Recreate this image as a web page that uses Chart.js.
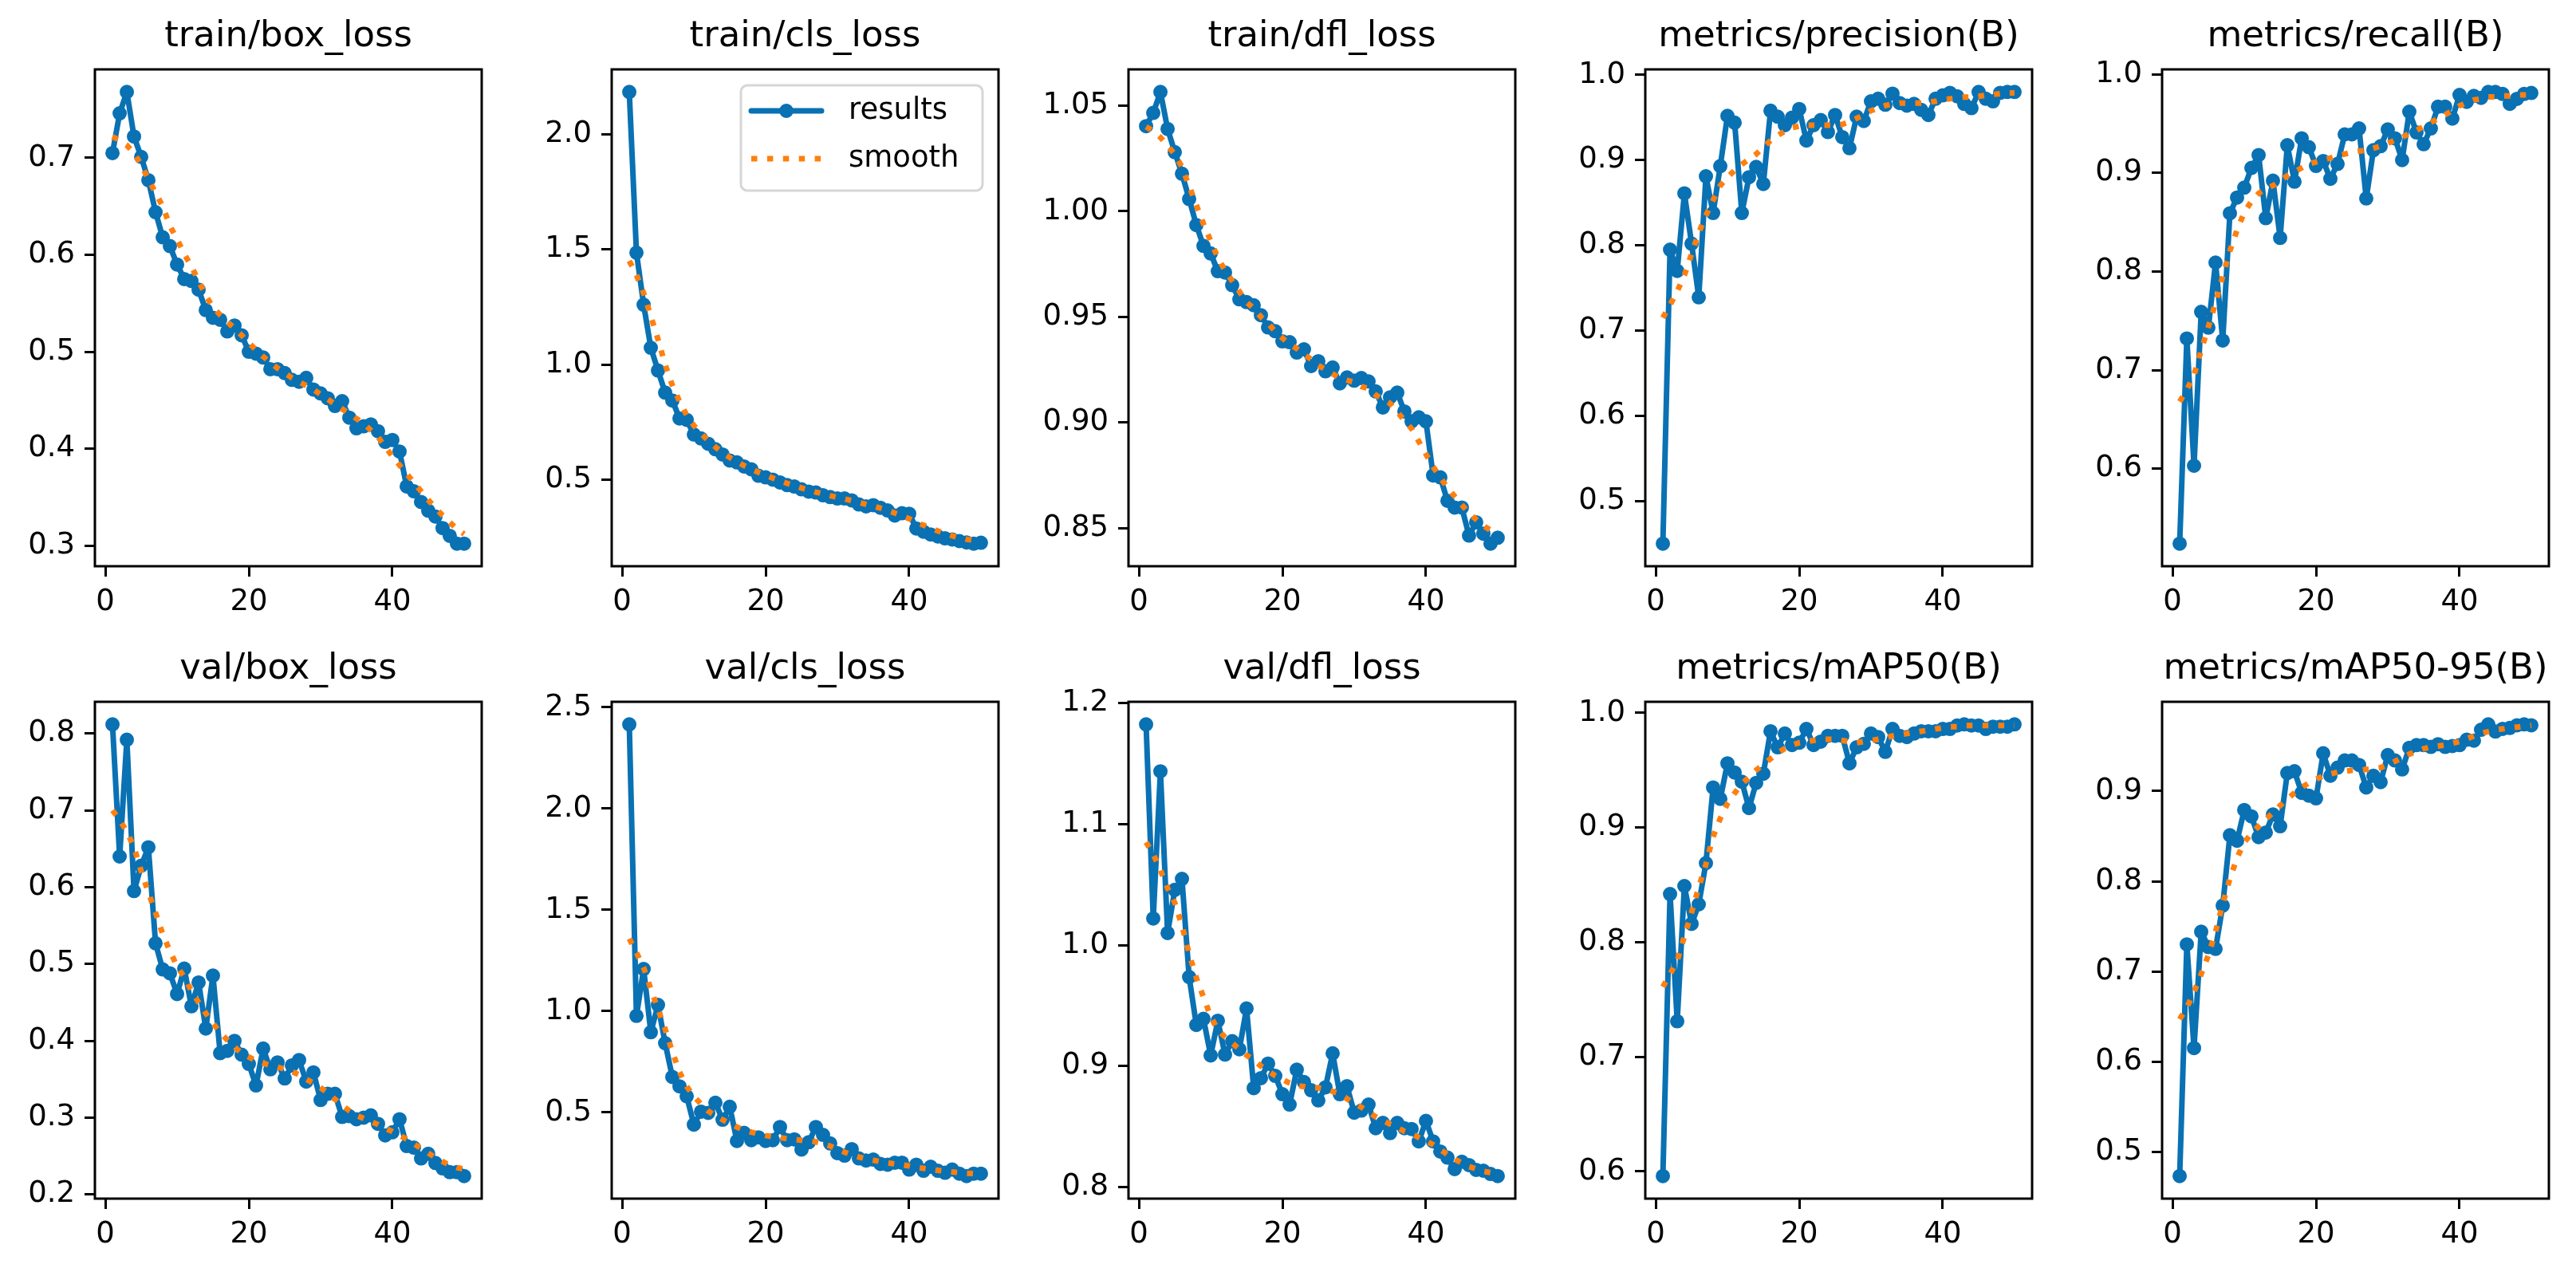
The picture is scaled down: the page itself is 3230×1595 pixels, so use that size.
<!DOCTYPE html>
<html>
<head>
<meta charset="utf-8">
<title>results</title>
<script src="https://cdn.jsdelivr.net/npm/chart.js@4.4.1/dist/chart.umd.min.js"></script>
<style>
    html, body { margin: 0; padding: 0; background: #fff; }
    #fig { position: relative; width: 3230px; height: 1595px; overflow: hidden; background: #fff; }
    #fig canvas { position: absolute; }
</style>
</head>
<body>
<div id="fig"></div>
<script>
// epochs on the x axis
const epochs = [1,2,3,4,5,6,7,8,9,10,11,12,13,14,15,16,17,18,19,20,21,22,23,24,25,26,27,28,29,30,31,32,33,34,35,36,37,38,39,40,41,42,43,44,45,46,47,48,49,50];
const xTicks = [0, 20, 40];

const titles = ["train/box_loss", "train/cls_loss", "train/dfl_loss", "metrics/precision(B)", "metrics/recall(B)",
                "val/box_loss", "val/cls_loss", "val/dfl_loss", "metrics/mAP50(B)", "metrics/mAP50-95(B)"];

// results + smooth series
const trainBoxLoss = [0.705,0.746,0.768,0.722,0.701,0.677,0.644,0.618,0.609,0.590,0.575,0.573,0.564,0.543,0.535,0.533,0.521,0.527,0.517,0.500,0.498,0.494,0.482,0.482,0.478,0.471,0.469,0.473,0.461,0.457,0.452,0.444,0.449,0.432,0.421,0.423,0.425,0.418,0.407,0.409,0.397,0.361,0.356,0.345,0.336,0.330,0.318,0.310,0.302,0.302];
const trainBoxSmooth = [0.722,0.718,0.713,0.705,0.693,0.678,0.664,0.650,0.630,0.616,0.601,0.588,0.573,0.558,0.546,0.538,0.531,0.524,0.517,0.509,0.502,0.495,0.489,0.483,0.478,0.473,0.469,0.465,0.461,0.456,0.451,0.446,0.441,0.436,0.431,0.426,0.419,0.412,0.402,0.392,0.383,0.374,0.365,0.356,0.347,0.339,0.331,0.324,0.317,0.312];
const trainBoxTicks = [0.3, 0.4, 0.5, 0.6, 0.7];

const trainClsLoss = [2.184,1.486,1.260,1.073,0.974,0.878,0.844,0.766,0.760,0.696,0.679,0.656,0.632,0.609,0.583,0.575,0.557,0.545,0.517,0.510,0.500,0.488,0.476,0.470,0.458,0.448,0.444,0.432,0.424,0.418,0.418,0.410,0.392,0.384,0.389,0.378,0.366,0.344,0.354,0.352,0.288,0.274,0.262,0.253,0.245,0.240,0.233,0.227,0.222,0.226];
const trainClsSmooth = [1.450,1.390,1.310,1.210,1.110,1.000,0.910,0.840,0.780,0.735,0.700,0.670,0.642,0.617,0.596,0.578,0.561,0.546,0.532,0.519,0.507,0.495,0.484,0.474,0.464,0.455,0.446,0.438,0.430,0.423,0.416,0.409,0.401,0.393,0.385,0.376,0.366,0.355,0.343,0.330,0.316,0.302,0.289,0.277,0.266,0.256,0.248,0.241,0.236,0.233];
const trainClsTicks = [0.5, 1.0, 1.5, 2.0];

const trainDflLoss = [1.0403,1.0466,1.0565,1.039,1.028,1.0178,1.0058,0.9935,0.9836,0.980,0.9716,0.971,0.965,0.9583,0.957,0.9555,0.9508,0.945,0.9432,0.9384,0.938,0.9331,0.9346,0.9267,0.929,0.9242,0.926,0.9185,0.9213,0.9198,0.921,0.9194,0.9147,0.9071,0.9119,0.9141,0.9052,0.9005,0.9024,0.9005,0.8749,0.874,0.8629,0.8597,0.8597,0.8464,0.8527,0.8473,0.8426,0.8454];
const trainDflSmooth = [1.040,1.038,1.035,1.031,1.027,1.021,1.012,1.003,0.994,0.986,0.978,0.972,0.967,0.962,0.957,0.954,0.950,0.947,0.943,0.940,0.937,0.935,0.932,0.930,0.927,0.925,0.923,0.921,0.920,0.919,0.917,0.916,0.913,0.911,0.909,0.905,0.901,0.897,0.891,0.885,0.879,0.874,0.869,0.865,0.861,0.857,0.854,0.851,0.849,0.848];
const trainDflTicks = [0.85, 0.90, 0.95, 1.00, 1.05];

const precision = [0.450,0.795,0.770,0.861,0.802,0.739,0.881,0.838,0.893,0.952,0.944,0.838,0.880,0.892,0.872,0.958,0.951,0.941,0.950,0.960,0.923,0.941,0.947,0.933,0.953,0.927,0.914,0.951,0.946,0.969,0.972,0.965,0.978,0.967,0.964,0.966,0.959,0.953,0.972,0.976,0.979,0.975,0.966,0.961,0.980,0.972,0.969,0.979,0.980,0.980];
const precisionSmooth = [0.715,0.730,0.746,0.765,0.790,0.815,0.835,0.853,0.870,0.880,0.888,0.895,0.901,0.907,0.915,0.923,0.929,0.934,0.938,0.940,0.941,0.941,0.941,0.941,0.941,0.942,0.945,0.949,0.953,0.958,0.961,0.964,0.966,0.967,0.967,0.967,0.967,0.968,0.969,0.971,0.972,0.973,0.974,0.974,0.975,0.976,0.977,0.978,0.979,0.979];
const precisionTicks = [0.5, 0.6, 0.7, 0.8, 0.9, 1.0];

const recall = [0.524,0.732,0.603,0.759,0.743,0.809,0.730,0.859,0.875,0.885,0.905,0.918,0.854,0.892,0.834,0.928,0.891,0.935,0.926,0.907,0.912,0.894,0.909,0.939,0.939,0.945,0.874,0.923,0.927,0.944,0.935,0.913,0.962,0.941,0.929,0.945,0.967,0.967,0.955,0.979,0.972,0.978,0.976,0.982,0.982,0.980,0.970,0.975,0.980,0.981];
const recallSmooth = [0.668,0.680,0.695,0.720,0.744,0.768,0.795,0.821,0.842,0.860,0.871,0.879,0.884,0.887,0.892,0.897,0.901,0.905,0.909,0.911,0.913,0.915,0.917,0.919,0.921,0.922,0.923,0.925,0.927,0.930,0.933,0.936,0.940,0.943,0.947,0.951,0.955,0.959,0.963,0.968,0.971,0.974,0.975,0.977,0.977,0.978,0.978,0.979,0.979,0.979];
const recallTicks = [0.6, 0.7, 0.8, 0.9, 1.0];

const valBoxLoss = [0.812,0.640,0.792,0.595,0.628,0.652,0.527,0.493,0.488,0.461,0.494,0.445,0.476,0.416,0.485,0.384,0.387,0.400,0.382,0.370,0.342,0.390,0.363,0.372,0.351,0.368,0.375,0.347,0.359,0.323,0.331,0.331,0.301,0.302,0.298,0.300,0.303,0.292,0.277,0.281,0.298,0.263,0.261,0.247,0.253,0.241,0.234,0.229,0.229,0.224];
const valBoxSmooth = [0.700,0.688,0.672,0.652,0.621,0.593,0.567,0.539,0.517,0.497,0.483,0.465,0.450,0.436,0.423,0.411,0.401,0.392,0.384,0.379,0.374,0.371,0.368,0.366,0.363,0.360,0.356,0.350,0.345,0.339,0.332,0.324,0.316,0.309,0.303,0.299,0.295,0.291,0.286,0.282,0.277,0.272,0.266,0.260,0.254,0.248,0.243,0.238,0.235,0.233];
const valBoxTicks = [0.2, 0.3, 0.4, 0.5, 0.6, 0.7, 0.8];

const valClsLoss = [2.416,0.977,1.208,0.896,1.031,0.842,0.675,0.629,0.580,0.440,0.504,0.498,0.548,0.464,0.528,0.359,0.399,0.363,0.377,0.359,0.363,0.428,0.363,0.367,0.317,0.353,0.428,0.389,0.347,0.299,0.287,0.319,0.273,0.263,0.267,0.246,0.242,0.252,0.252,0.218,0.242,0.212,0.232,0.212,0.202,0.218,0.198,0.186,0.198,0.198];
const valClsSmooth = [1.358,1.290,1.215,1.110,1.010,0.912,0.800,0.700,0.628,0.580,0.541,0.507,0.484,0.464,0.446,0.428,0.414,0.403,0.394,0.386,0.380,0.375,0.371,0.366,0.363,0.360,0.355,0.346,0.334,0.318,0.304,0.291,0.280,0.271,0.264,0.257,0.251,0.246,0.241,0.236,0.229,0.224,0.219,0.214,0.210,0.206,0.203,0.200,0.198,0.197];
const valClsTicks = [0.5, 1.0, 1.5, 2.0, 2.5];

const valDflLoss = [1.1824,1.022,1.1436,1.010,1.0456,1.0547,0.9736,0.934,0.939,0.9088,0.9375,0.9095,0.9206,0.9139,0.9476,0.8818,0.890,0.902,0.8919,0.8767,0.8682,0.897,0.8868,0.880,0.8716,0.8824,0.9105,0.8767,0.8834,0.8615,0.8632,0.8682,0.8486,0.853,0.8446,0.853,0.8486,0.848,0.8378,0.8547,0.8378,0.8294,0.8243,0.8149,0.8209,0.8182,0.8142,0.8135,0.8108,0.8091];
const valDflSmooth = [1.085,1.075,1.062,1.047,1.035,1.016,0.993,0.973,0.957,0.941,0.930,0.924,0.919,0.914,0.909,0.905,0.900,0.896,0.892,0.889,0.886,0.884,0.883,0.882,0.882,0.881,0.879,0.877,0.873,0.869,0.866,0.862,0.858,0.855,0.852,0.849,0.846,0.844,0.841,0.838,0.835,0.831,0.827,0.823,0.820,0.817,0.815,0.813,0.812,0.811];
const valDflTicks = [0.8, 0.9, 1.0, 1.1, 1.2];

const map50 = [0.596,0.842,0.731,0.849,0.816,0.833,0.869,0.935,0.925,0.956,0.948,0.940,0.917,0.939,0.947,0.984,0.970,0.982,0.972,0.974,0.986,0.972,0.975,0.980,0.980,0.980,0.956,0.970,0.973,0.982,0.979,0.966,0.986,0.980,0.979,0.982,0.984,0.984,0.984,0.986,0.986,0.989,0.990,0.989,0.989,0.986,0.988,0.988,0.988,0.990];
const map50Smooth = [0.761,0.772,0.784,0.805,0.826,0.848,0.868,0.892,0.908,0.921,0.930,0.938,0.944,0.950,0.955,0.960,0.965,0.969,0.972,0.974,0.975,0.976,0.977,0.977,0.977,0.976,0.975,0.974,0.975,0.976,0.977,0.978,0.980,0.981,0.982,0.983,0.984,0.985,0.986,0.987,0.988,0.988,0.989,0.989,0.989,0.989,0.989,0.989,0.989,0.989];
const map50Ticks = [0.6, 0.7, 0.8, 0.9, 1.0];

const map5095 = [0.473,0.730,0.615,0.744,0.727,0.725,0.773,0.851,0.845,0.879,0.872,0.849,0.854,0.874,0.861,0.920,0.922,0.898,0.895,0.892,0.942,0.917,0.926,0.934,0.934,0.929,0.904,0.917,0.910,0.940,0.934,0.924,0.948,0.951,0.951,0.949,0.952,0.949,0.950,0.951,0.957,0.956,0.968,0.974,0.966,0.969,0.970,0.973,0.974,0.973];
const map5095Smooth = [0.647,0.660,0.677,0.697,0.718,0.744,0.775,0.803,0.826,0.843,0.853,0.861,0.869,0.876,0.884,0.891,0.898,0.904,0.909,0.913,0.917,0.919,0.921,0.922,0.923,0.923,0.924,0.925,0.926,0.929,0.933,0.937,0.941,0.944,0.947,0.949,0.950,0.951,0.953,0.955,0.958,0.961,0.964,0.966,0.968,0.969,0.970,0.971,0.972,0.973];
const map5095Ticks = [0.5, 0.6, 0.7, 0.8, 0.9];

const panels = [
    { y: trainBoxLoss, s: trainBoxSmooth, ticks: trainBoxTicks, dec: 1 },
    { y: trainClsLoss, s: trainClsSmooth, ticks: trainClsTicks, dec: 1, legend: true },
    { y: trainDflLoss, s: trainDflSmooth, ticks: trainDflTicks, dec: 2 },
    { y: precision, s: precisionSmooth, ticks: precisionTicks, dec: 1 },
    { y: recall, s: recallSmooth, ticks: recallTicks, dec: 1 },
    { y: valBoxLoss, s: valBoxSmooth, ticks: valBoxTicks, dec: 1 },
    { y: valClsLoss, s: valClsSmooth, ticks: valClsTicks, dec: 1 },
    { y: valDflLoss, s: valDflSmooth, ticks: valDflTicks, dec: 1 },
    { y: map50, s: map50Smooth, ticks: map50Ticks, dec: 1 },
    { y: map5095, s: map5095Smooth, ticks: map5095Ticks, dec: 1 },
];

// layout of the 2 x 5 grid (plot area boxes in page pixels)
const colLeft = [119, 767, 1415, 2063, 2711];
const rowTop = [87, 880];
const plotW = 485, plotH = 623;
const padL = 130, padR = 15, padT = 86, padB = 90;

const BLUE = "#0a71b3";
const ORANGE = "#ff7f0e";
const FONT = "'DejaVu Sans', 'Liberation Sans', sans-serif";

Chart.defaults.font.family = FONT;
Chart.defaults.color = "#000";

// matplotlib style margins: 5% of the data span on each side
const withMargin = (vals) => {
    const lo = Math.min(...vals), hi = Math.max(...vals);
    const m = (hi - lo) * 0.05;
    return [lo - m, hi + m];
};

const frame = {
    id: "frame",
    afterDatasetsDraw(chart) {
        const { ctx, chartArea: a } = chart;
        ctx.save();
        ctx.lineWidth = 3;
        ctx.strokeStyle = "#000";
        ctx.strokeRect(a.left, a.top, a.right - a.left, a.bottom - a.top);
        ctx.restore();
    }
};

// boxed legend in the upper right corner of the plot
const legendBox = {
    id: "legendBox",
    afterDraw(chart, args, opts) {
        if (!opts.show) return;
        const { ctx, chartArea: a } = chart;
        const w = 303, h = 132;
        const x0 = a.right - 20 - w, y0 = a.top + 20;
        ctx.save();
        ctx.beginPath();
        ctx.roundRect(x0, y0, w, h, 8);
        ctx.fillStyle = "rgba(255,255,255,0.8)";
        ctx.fill();
        ctx.lineWidth = 3;
        ctx.strokeStyle = "rgba(204,204,204,0.8)";
        ctx.stroke();
        const rows = [y0 + 32, y0 + 92];
        chart.data.datasets.forEach((ds, i) => {
            const ry = rows[i];
            ctx.beginPath();
            ctx.setLineDash(ds.borderDash || []);
            ctx.lineCap = ds.borderCapStyle || "butt";
            ctx.lineWidth = ds.borderWidth;
            ctx.strokeStyle = ds.borderColor;
            ctx.moveTo(x0 + 13, ry);
            ctx.lineTo(x0 + 101, ry);
            ctx.stroke();
            ctx.setLineDash([]);
            if (ds.pointRadius > 0) {
                ctx.beginPath();
                ctx.arc(x0 + 57, ry, ds.pointRadius, 0, Math.PI * 2);
                ctx.fillStyle = ds.pointBackgroundColor;
                ctx.fill();
                ctx.lineWidth = ds.pointBorderWidth;
                ctx.strokeStyle = ds.pointBorderColor;
                ctx.stroke();
            }
            ctx.fillStyle = "#000";
            ctx.font = "37px " + FONT;
            ctx.textAlign = "left";
            ctx.textBaseline = "middle";
            ctx.fillText(ds.label, x0 + 135, ry);
        });
        ctx.restore();
    }
};

const fig = document.getElementById("fig");
const [xMin, xMax] = withMargin(epochs);

panels.forEach((p, i) => {
    const col = i % 5, row = Math.floor(i / 5);
    const canvas = document.createElement("canvas");
    canvas.width = padL + plotW + padR;
    canvas.height = padT + plotH + padB;
    canvas.style.width = canvas.width + "px";
    canvas.style.height = canvas.height + "px";
    canvas.style.left = (colLeft[col] - padL) + "px";
    canvas.style.top = (rowTop[row] - padT) + "px";
    fig.appendChild(canvas);

    const [yMin, yMax] = withMargin(p.y.concat(p.s));
    const tickStyle = { drawOnChartArea: false, drawTicks: true, tickLength: 13, tickWidth: 3, tickColor: "#000" };

    new Chart(canvas, {
        type: "line",
        data: {
            datasets: [
                {
                    label: "results",
                    data: epochs.map((e, k) => ({ x: e, y: p.y[k] })),
                    borderColor: BLUE,
                    backgroundColor: BLUE,
                    borderWidth: 7,
                    borderJoinStyle: "round",
                    borderCapStyle: "round",
                    pointRadius: 7.5,
                    pointBorderWidth: 3,
                    pointBackgroundColor: BLUE,
                    pointBorderColor: BLUE,
                    tension: 0,
                    order: 1,
                },
                {
                    label: "smooth",
                    data: epochs.map((e, k) => ({ x: e, y: p.s[k] })),
                    borderColor: ORANGE,
                    backgroundColor: ORANGE,
                    borderWidth: 7,
                    borderDash: [7.5, 12.4],
                    borderCapStyle: "butt",
                    borderJoinStyle: "round",
                    pointRadius: 0,
                    tension: 0,
                    order: 0,
                }
            ]
        },
        options: {
            responsive: false,
            animation: false,
            devicePixelRatio: 1,
            layout: { padding: { top: 0, right: padR, bottom: 0, left: 0 } },
            plugins: {
                legend: { display: false },
                tooltip: { enabled: false },
                title: {
                    display: true,
                    text: titles[i],
                    fullSize: false,
                    color: "#000",
                    font: { size: 45, weight: "normal" },
                    padding: { top: 18, bottom: 14 },
                },
                legendBox: { show: !!p.legend },
            },
            scales: {
                x: {
                    type: "linear",
                    min: xMin,
                    max: xMax,
                    grid: tickStyle,
                    border: { display: false },
                    afterBuildTicks: (s) => { s.ticks = xTicks.map(v => ({ value: v })); },
                    afterFit: (s) => { s.height = padB; },
                    ticks: { font: { size: 37 }, color: "#000", padding: 10, maxRotation: 0, autoSkip: false,
                             callback: (v) => String(v) },
                },
                y: {
                    type: "linear",
                    min: yMin,
                    max: yMax,
                    grid: tickStyle,
                    border: { display: false },
                    afterBuildTicks: (s) => {
                        s.ticks = p.ticks.filter(v => v >= s.min && v <= s.max).map(v => ({ value: v }));
                    },
                    afterFit: (s) => { s.width = padL; },
                    ticks: { font: { size: 37 }, color: "#000", padding: 12, autoSkip: false,
                             callback: (v) => Number(v).toFixed(p.dec) },
                },
            },
        },
        plugins: [frame, legendBox],
    });
});
</script>
</body>
</html>
